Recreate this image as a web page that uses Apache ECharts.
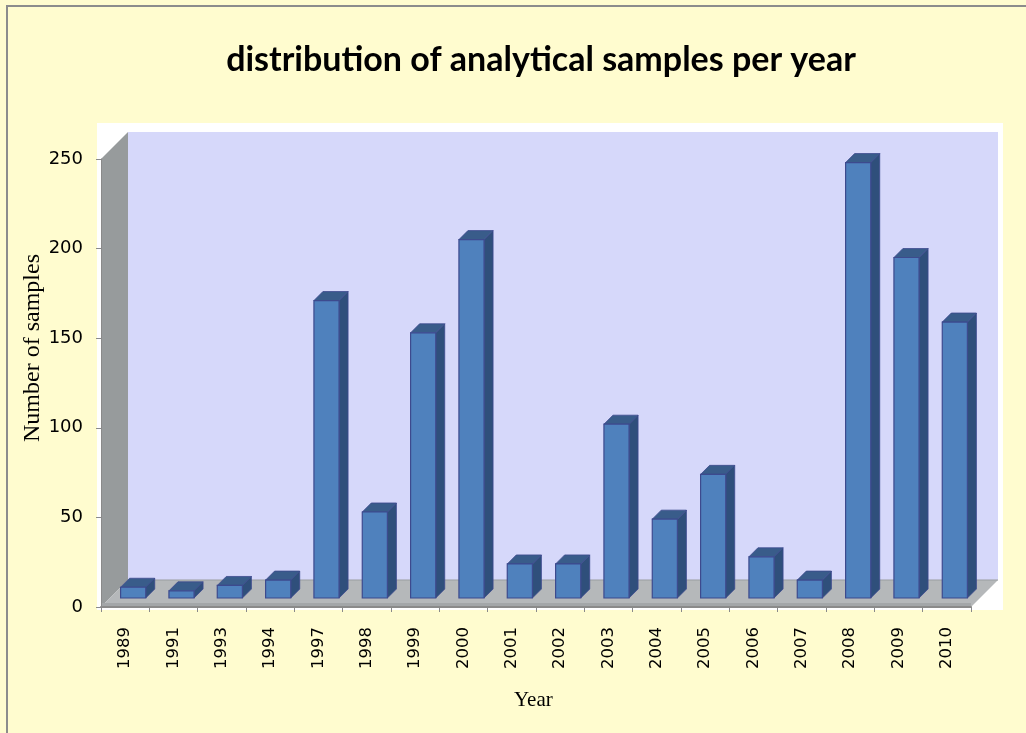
<!DOCTYPE html>
<html>
<head>
<meta charset="utf-8">
<script src="https://cdn.jsdelivr.net/npm/echarts@6/dist/echarts.min.js"></script>
<style>
  html, body { margin: 0; padding: 0; background: #fffccf; }
  #chart { width: 1026px; height: 733px; }
</style>
</head>
<body>
<div id="chart"></div>
<script>
// data
const years = ['1989', '1991', '1993', '1994', '1997', '1998', '1999', '2000', '2001',
  '2002', '2003', '2004', '2005', '2006', '2007', '2008', '2009', '2010'];
const samples = [6, 4, 7, 10, 166, 48, 148, 200, 19, 19, 97, 44, 69, 23, 10, 243, 190, 154];
const yMax = 250;
const yStep = 50;

// fake 3d look (pixels)
const WALL_DEPTH = 27;
const BAR_SHIFT = 9;   // bars sit in the middle of the floor depth
const BAR_DEPTH = 9;
const BAR_RATIO = 0.52;

const chart = echarts.init(document.getElementById('chart'));

const option = {
  backgroundColor: '#fffccf',
  animation: false,
  title: {
    text: 'distribution of analytical samples per year',
    left: 536,
    top: 38,
    textAlign: 'center',
    textStyle: { fontFamily: 'Lato', fontWeight: 'bold', fontSize: 34, color: '#000' }
  },
  grid: { left: 101, right: 55, top: 159, bottom: 126, containLabel: false },
  xAxis: {
    type: 'category',
    data: years,
    z: 5,
    axisLine: { lineStyle: { color: '#8a8a8a', width: 2 } },
    axisTick: { show: true, length: 5, lineStyle: { color: '#8a8a8a' } },
    axisLabel: { interval: 0, rotate: 90, margin: 20, fontFamily: 'DejaVu Sans', fontSize: 16.5, color: '#000' },
    splitLine: { show: false }
  },
  yAxis: {
    type: 'value',
    min: 0,
    max: yMax,
    interval: yStep,
    z: 5,
    axisLine: { show: true, lineStyle: { color: '#8a8a8a', width: 1 } },
    axisTick: { show: true, length: 5, lineStyle: { color: '#8a8a8a' } },
    axisLabel: { margin: 18, fontFamily: 'DejaVu Sans', fontSize: 18, color: '#000' },
    splitLine: { show: false }
  },
  graphic: [
    {
      type: 'rect', z: -10, silent: true,
      shape: { x: 7, y: 6, width: 1030, height: 740 },
      style: { fill: 'none', stroke: '#8c8c8c', lineWidth: 2 }
    },
    {
      type: 'text', left: 21, top: 254, rotation: Math.PI / 2,
      style: { text: 'Number of samples', font: '24px "Liberation Serif"', fill: '#000' }
    },
    {
      type: 'text', left: 514, top: 690,
      style: { text: 'Year', font: '21px "Liberation Serif"', fill: '#000' }
    }
  ],
  series: [
    {
      // walls and floor
      type: 'custom',
      z: 1,
      silent: true,
      data: [[0]],
      renderItem: (params, api) => {
        const band = api.size([1, 0])[0];
        const n = years.length;
        const x0 = api.coord([0, 0])[0] - band / 2;
        const x1 = api.coord([n - 1, 0])[0] + band / 2;
        const y0 = api.coord([0, 0])[1];
        const yTop = api.coord([0, yMax])[1];
        const D = WALL_DEPTH;
        return {
          type: 'group',
          children: [
            { type: 'rect', shape: { x: x0 - 4, y: yTop - D - 9, width: x1 - x0 + D + 9, height: y0 - yTop + D + 12 },
              style: { fill: '#ffffff' } },
            { type: 'rect', shape: { x: x0 + D, y: yTop - D, width: x1 - x0, height: y0 - yTop },
              style: { fill: '#d6d8fa' } },
            { type: 'polygon', shape: { points: [[x0, yTop], [x0 + D, yTop - D], [x0 + D, y0 - D], [x0, y0]] },
              style: { fill: '#979b9c' } },
            { type: 'polygon', shape: { points: [[x0, y0], [x0 + D, y0 - D], [x1 + D, y0 - D], [x1, y0]] },
              style: { fill: '#b5b8ba' } },
            { type: 'line', shape: { x1: x0 + D, y1: y0 - D, x2: x1 + D, y2: y0 - D },
              style: { stroke: '#9a9d9f', lineWidth: 1 } },
            { type: 'rect', shape: { x: x0, y: y0 - 4, width: x1 - x0, height: 4 },
              style: { fill: '#a3a6a8' } }
          ]
        };
      }
    },
    {
      type: 'custom',
      name: 'samples',
      z: 3,
      data: samples.map((v, i) => [i, v]),
      renderItem: (params, api) => {
        const top = api.coord([api.value(0), api.value(1)]);
        const base = api.coord([api.value(0), 0]);
        const band = api.size([1, 0])[0];
        const w = band * BAR_RATIO;
        const d = BAR_DEPTH;
        const xl = top[0] - w / 2 + BAR_SHIFT - 1;
        const xr = xl + w;
        const yt = top[1] - BAR_SHIFT;
        const yb = base[1] - BAR_SHIFT;
        const edge = '#3d4a8e';
        return {
          type: 'group',
          children: [
            { type: 'polygon', shape: { points: [[xr, yt], [xr + d, yt - d], [xr + d, yb - d], [xr, yb]] },
              style: { fill: '#2f4f7b', stroke: edge, lineWidth: 0.8 } },
            { type: 'polygon', shape: { points: [[xl, yt], [xl + d, yt - d], [xr + d, yt - d], [xr, yt]] },
              style: { fill: '#395c8a', stroke: edge, lineWidth: 0.8 } },
            { type: 'rect', shape: { x: xl, y: yt, width: w, height: yb - yt },
              style: { fill: '#4f81bd', stroke: edge, lineWidth: 1.2 } }
          ]
        };
      }
    }
  ]
};

chart.setOption(option);
</script>
</body>
</html>
